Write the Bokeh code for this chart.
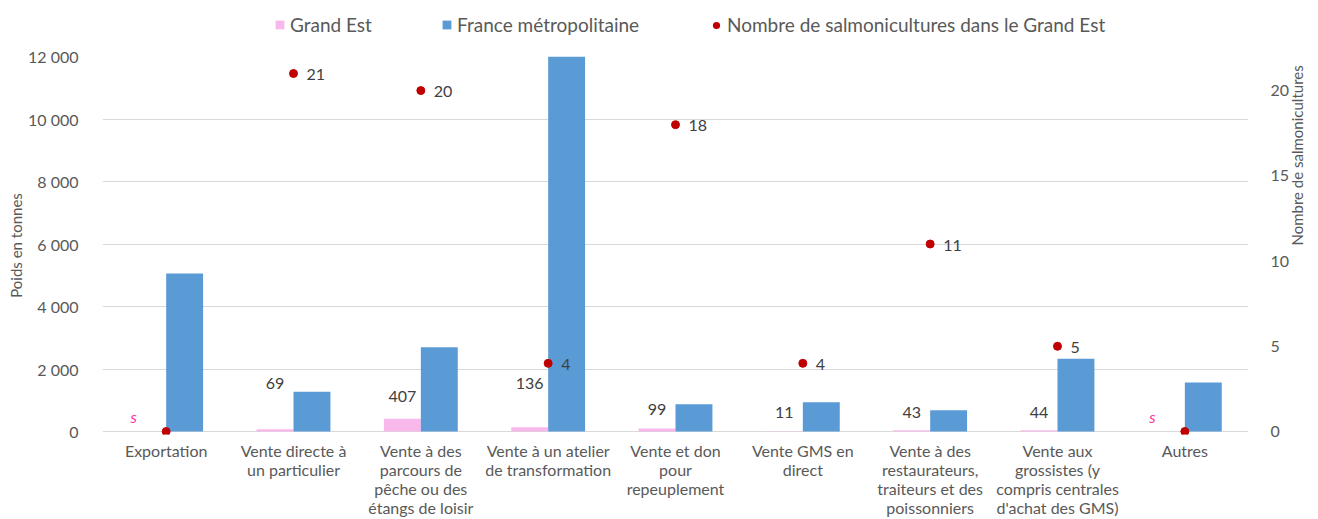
from bokeh.plotting import figure
from bokeh.layouts import column
from bokeh.models import (Range1d, LinearAxis, FactorRange, Legend, LegendItem,
                          ColumnDataSource, FixedTicker, CustomJSTickFormatter)
from bokeh.transform import dodge
from bokeh.embed import file_html
from bokeh.resources import INLINE
from bokeh.core.properties import value
import math

# ---- data ----
categories = [
    "Exportation",
    "Vente directe à\nun particulier",
    "Vente à des\nparcours de\npêche ou des\nétangs de loisir",
    "Vente à un atelier\nde transformation",
    "Vente et don\npour\nrepeuplement",
    "Vente GMS en\ndirect",
    "Vente à des\nrestaurateurs,\ntraiteurs et des\npoissonniers",
    "Vente aux\ngrossistes (y\ncompris centrales\nd'achat des GMS)",
    "Autres",
]
grand_est = [None, 69, 407, 136, 99, 11, 43, 44, None]          # None = secret statistique
grand_est_labels = ["s", "69", "407", "136", "99", "11", "43", "44", "s"]
france = [5060, 1270, 2700, 12500, 870, 940, 680, 2330, 1570]
nb_salmo = [0, 21, 20, 4, 18, 4, 11, 5, 0]
left_ticks = [0, 2000, 4000, 6000, 8000, 10000, 12000]
right_ticks = [0, 5, 10, 15, 20]
series_names = ["Grand Est", "France métropolitaine",
                "Nombre de salmonicultures dans le Grand Est"]

# label vertical offsets (px, manual placement as in original)
label_offsets = [-15, -46, -22, -44, -19, -19, -18, -18, -15]

# ---- styling ----
PINK = "#F9B8EC"
BLUE = "#5B9BD5"
RED = "#C00000"
TXT = "#595959"
FONT = "Lato"

W = 1318
LH = 40                       # legend strip height
H = 519 - LH                  # main figure height
FL, FR = 102, 1257            # frame left/right (px)
FT = 56 - LH                  # frame top inside main figure
Y0 = 432 - LH                 # pixel row of value 0
FB = Y0 + 3                   # frame bottom (3px below the 0 line)

PX_PER_T = (Y0 - FT) / 12000.0
PX_PER_N = (Y0 - FT) / 22.0

p = figure(width=W, height=H, output_backend="svg", toolbar_location=None,
           x_range=FactorRange(*categories, range_padding=0, factor_padding=0),
           y_range=Range1d(-(FB - Y0) / PX_PER_T, 12000),
           min_border_left=FL, min_border_right=W - FR,
           min_border_top=FT, min_border_bottom=H - FB)
p.outline_line_color = None
p.background_fill_color = "white"
p.extra_y_ranges = {"right": Range1d(-(FB - Y0) / PX_PER_N, 22)}

ge_vals = [float("nan") if v is None else v for v in grand_est]
src = ColumnDataSource(dict(
    cat=categories, ge=ge_vals, fr=france, nb=nb_salmo,
    ge_lab_y=[0 if v is None else v for v in grand_est],
    ge_lab=grand_est_labels,
    ge_off=label_offsets,
    ge_col=["#FF3399" if v is None else "#404040" for v in grand_est],
    ge_style=["italic" if v is None else "normal" for v in grand_est],
    ge_dx=[-14 if v is None else 0 for v in grand_est],
    nb_lab=[str(n) if n > 0 else "" for n in nb_salmo],
))

p.vbar(x=dodge("cat", -0.145, range=p.x_range), top="ge", bottom=0,
       width=0.29, source=src, fill_color=PINK, line_color=None)
p.vbar(x=dodge("cat", 0.145, range=p.x_range), top="fr", bottom=0,
       width=0.29, source=src, fill_color=BLUE, line_color=None)
p.scatter(x="cat", y="nb", y_range_name="right", source=src,
          size=8, fill_color=RED, line_color=RED)

# labels of Grand Est
p.text(x=dodge("cat", -0.145, range=p.x_range), y="ge_lab_y", text="ge_lab",
       source=src, y_offset="ge_off", x_offset="ge_dx",
       text_align="center", text_baseline="middle",
       text_font=value(FONT), text_font_size="16px",
       text_color="ge_col", text_font_style="ge_style")
# labels of dots
p.text(x="cat", y="nb", y_range_name="right", text="nb_lab", source=src,
       x_offset=13, y_offset=1, text_align="left", text_baseline="middle",
       text_font=value(FONT), text_font_size="16px", text_color="#404040")

# grid
p.xgrid.grid_line_color = None
p.ygrid.grid_line_color = "#D9D9D9"
p.ygrid.grid_line_width = 1
p.ygrid.ticker = FixedTicker(ticks=left_ticks)

fmt = CustomJSTickFormatter(code="return String(tick).replace(/\\B(?=(\\d{3})+(?!\\d))/g, ' ');")

# left axis
ax = p.yaxis[0]
ax.ticker = FixedTicker(ticks=left_ticks)
ax.formatter = fmt
ax.axis_line_color = None
ax.major_tick_line_color = None
ax.minor_tick_line_color = None
ax.major_label_standoff = 18
ax.major_label_text_font = FONT
ax.major_label_text_font_size = "16px"
ax.major_label_text_color = TXT
ax.axis_label = "Poids en tonnes"
ax.axis_label_text_font = FONT
ax.axis_label_text_font_size = "15px"
ax.axis_label_text_font_style = "normal"
ax.axis_label_text_color = TXT
ax.axis_label_standoff = 0

# right axis
ra = LinearAxis(y_range_name="right", ticker=FixedTicker(ticks=right_ticks))
ra.axis_line_color = None
ra.major_tick_line_color = None
ra.minor_tick_line_color = None
ra.major_label_standoff = 16
ra.major_label_text_font = FONT
ra.major_label_text_font_size = "16px"
ra.major_label_text_color = TXT
ra.axis_label = "Nombre de salmonicultures"
ra.axis_label_text_font = FONT
ra.axis_label_text_font_size = "15px"
ra.axis_label_text_font_style = "normal"
ra.axis_label_text_color = TXT
ra.axis_label_standoff = 5
if "axis_label_orientation" in ra.properties():
    ra.axis_label_orientation = math.pi / 2
p.add_layout(ra, "right")

# x axis (multi-line category labels)
xa = p.xaxis[0]
xa.axis_line_color = None
xa.major_tick_line_color = None
xa.minor_tick_line_color = None
xa.major_label_standoff = 0
xa.major_label_text_font = FONT
xa.major_label_text_font_size = "16px"
xa.major_label_text_color = TXT
xa.major_label_text_line_height = 1.0
xa.major_label_orientation = "horizontal"

# ---- legend strip (separate figure on top; its frame aligns with the main frame) ----
lf = figure(width=W, height=LH, output_backend="svg", toolbar_location=None,
            x_range=Range1d(0, 1), y_range=Range1d(0, 1),
            x_axis_location=None, y_axis_location=None,
            min_border=0, min_border_left=0, min_border_right=0,
            min_border_top=0, min_border_bottom=0)
lf.outline_line_color = None
lf.outline_line_alpha = 0
lf.border_fill_color = "white"
lf.background_fill_color = "white"
lf.xgrid.visible = False
lf.ygrid.visible = False
# key glyphs only (their single point lies outside the visible range)
k_ge = lf.vbar(x=[-5], top=[-5], width=0.1, fill_color=PINK, line_color=None)
k_fr = lf.vbar(x=[-5], top=[-5], width=0.1, fill_color=BLUE, line_color=None)
k_nb = lf.scatter(x=[-5], y=[-5], size=8, fill_color=RED, line_color=None)

common = dict(orientation="horizontal", padding=0, margin=0, border_line_color=None,
              background_fill_alpha=0, label_text_font=FONT, label_text_font_size="19px",
              label_text_color=TXT, label_height=20, spacing=0)
lf.add_layout(Legend(items=[LegendItem(label=series_names[0], renderers=[k_ge])],
                     location=(274 - FL, 4), glyph_width=11, glyph_height=11,
                     label_standoff=5, **common))
lf.add_layout(Legend(items=[LegendItem(label=series_names[1], renderers=[k_fr])],
                     location=(441 - FL, 4), glyph_width=11, glyph_height=11,
                     label_standoff=5, **common))
lf.add_layout(Legend(items=[LegendItem(label=series_names[2], renderers=[k_nb])],
                     location=(707 - FL, 4), glyph_width=18, glyph_height=18,
                     label_standoff=2, **common))

layout = column(lf, p, spacing=0)
open("out.html", "w").write(file_html(layout, INLINE))
